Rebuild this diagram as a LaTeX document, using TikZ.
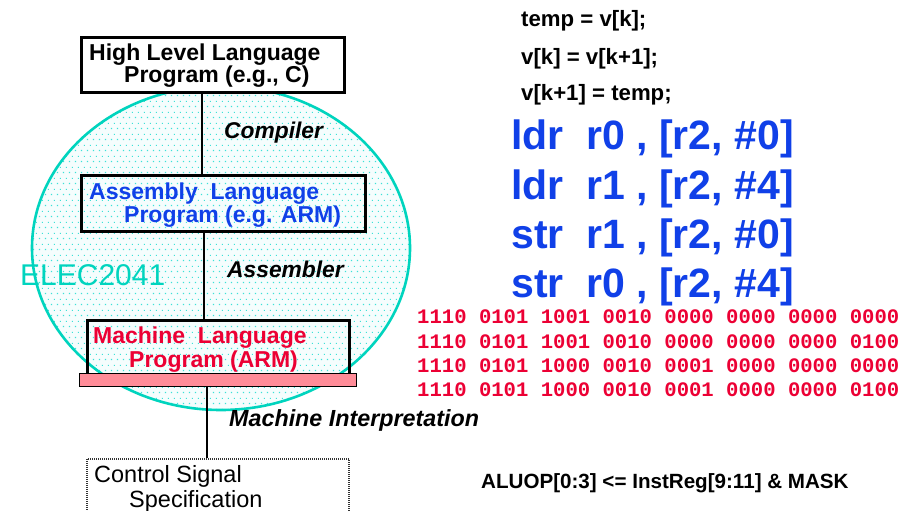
\documentclass[tikz,border=0pt]{standalone}
\usepackage{fontspec}
\setmainfont{Liberation Sans}
\setmonofont{Liberation Mono}
\usetikzlibrary{patterns.meta}
\definecolor{tealc}{RGB}{0,212,190}
\definecolor{dotc}{RGB}{60,225,215}
\definecolor{asmblue}{RGB}{16,64,232}
\definecolor{mred}{RGB}{236,0,52}
\definecolor{barpink}{RGB}{255,140,152}
\tikzdeclarepattern{
  name=tealdots, type=uncolored,
  bottom left={(0pt,0pt)}, top right={(6.4pt,10.6pt)},
  tile size={(6.4pt,10.6pt)},
  code={
    \fill (1pt,1pt) rectangle (2.2pt,2.2pt);
    \fill (4.2pt,6.3pt) rectangle (5.4pt,7.5pt);
  }
}
\tikzset{
  box/.style={draw=black, line width=2.6pt, rectangle, inner sep=0pt, anchor=north west},
  conn/.style={draw=black, line width=2.4pt},
  lbl/.style={anchor=base west, inner sep=0pt, font=\fontsize{23}{24}\selectfont\bfseries},
  stagelbl/.style={anchor=base west, inner sep=0pt, font=\fontsize{22.8}{24}\selectfont\bfseries\itshape},
  code/.style={anchor=base west, inner sep=0pt, font=\fontsize{22.2}{24}\selectfont\bfseries},
  asm/.style={anchor=base west, inner sep=0pt, text=asmblue, font=\fontsize{41}{44}\selectfont\bfseries},
  bin/.style={anchor=base west, inner sep=0pt, text=mred, font=\fontsize{20.6}{22}\selectfont\ttfamily\bfseries},
}
\begin{document}
\begin{tikzpicture}[x=1pt,y=-1pt]
\clip (0,0) rectangle (921,511);
\fill[white] (0,0) rectangle (921,511);
% ellipse
\fill[dotc!5] (221,248) ellipse [x radius=189, y radius=162];
\fill[pattern=tealdots, pattern color=dotc] (221,248) ellipse [x radius=189, y radius=162];
\draw[tealc, line width=2.6pt] (221,248) ellipse [x radius=189, y radius=162];
\node[anchor=base west, inner sep=0pt, text=tealc, font=\fontsize{30}{32}\selectfont] (elec) at (20,285) {ELEC2041};
% boxes
\node[box, fill=white, minimum width=263pt, minimum height=55pt] (b1) at (80,36) {};
\node[box, minimum width=284pt, minimum height=56pt] (b2) at (80,174) {};
\node[box, minimum width=262pt, minimum height=60pt] (b3) at (86,319) {};
\node[draw=black, line width=1pt, fill=barpink, rectangle, inner sep=0pt, anchor=north west, minimum width=277pt, minimum height=13pt] (bar) at (79,373) {};
\node[draw=black!80, line width=1.8pt, dash pattern=on 1pt off 1pt, rectangle, inner sep=0pt, anchor=north west, minimum width=262pt, minimum height=70pt] (b4) at (86,458) {};
% connectors
\coordinate (x1) at (202,0);
\coordinate (x2) at (204,0);
\coordinate (x3) at (207,0);
\draw[conn] (b1.south -| x1) -- (b2.north -| x1);
\draw[conn] (b2.south -| x2) -- (b3.north -| x2);
\draw[conn] (bar.south -| x3) -- (b4.north -| x3);
% box texts
\node[lbl] (t1a) at (89,60) {High Level Language};
\node[lbl] (t1b) at (124,82) {Program (e.g., C)};
\node[lbl, text=asmblue] (t2a) at (89,199) {Assembly\ \ Language};
\node[lbl, text=asmblue] (t2b) at (124,222) {Program (e.g. ARM)};
\node[lbl, text=mred] (t3a) at (93,343) {Machine\ \ Language};
\node[lbl, text=mred] (t3b) at (129,367) {Program (ARM)};
\node[anchor=base west, inner sep=0pt, font=\fontsize{23.5}{24}\selectfont] (t4a) at (94,482) {Control Signal};
\node[anchor=base west, inner sep=0pt, font=\fontsize{23.5}{24}\selectfont] (t4b) at (129,507) {Specification};
% stage labels
\node[stagelbl] (comp) at (224,138) {Compiler};
\node[stagelbl] (assm) at (227,277) {Assembler};
\node[stagelbl, font=\fontsize{23.3}{24}\selectfont\bfseries\itshape] (mint) at (229,426) {Machine Interpretation};
% C code
\node[code] (c1) at (521,27) {temp = v[k];};
\node[code] (c2) at (521,64) {v[k] = v[k+1];};
\node[code] (c3) at (521,100) {v[k+1] = temp;};
% assembly
\node[asm] (a1) at (511,149) {ldr\ \ r0 , [r2, \#0]};
\node[asm] (a2) at (511,199) {ldr\ \ r1 , [r2, \#4]};
\node[asm] (a3) at (511,248) {str\ \ r1 , [r2, \#0]};
\node[asm] (a4) at (511,297) {str\ \ r0 , [r2, \#4]};
% machine code
\node[bin] (m1) at (417,323) {1110 0101 1001 0010 0000 0000 0000 0000};
\node[bin] (m2) at (417,348) {1110 0101 1001 0010 0000 0000 0000 0100};
\node[bin] (m3) at (417,372) {1110 0101 1000 0010 0001 0000 0000 0000};
\node[bin] (m4) at (417,396) {1110 0101 1000 0010 0001 0000 0000 0100};
% control
\node[code, font=\fontsize{20.6}{22}\selectfont\bfseries] (alu) at (481,488) {ALUOP[0:3] <= InstReg[9:11] \& MASK};
\end{tikzpicture}
\end{document}
